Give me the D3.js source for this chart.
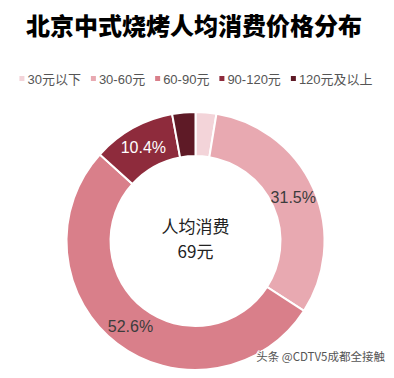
<!DOCTYPE html>
<html><head><meta charset="utf-8">
<script src="https://cdn.jsdelivr.net/npm/d3@7"></script>
<style>body{margin:0;background:#fff;}svg{display:block;}</style>
</head><body>
<svg id="c" width="394" height="378"></svg>
<script>
const categories = ["30元以下", "30-60元", "60-90元", "90-120元", "120元及以上"];
const values = [2.6, 31.5, 52.6, 10.4, 2.9];
const labels = ["", "31.5%", "52.6%", "10.4%", ""];
const colors = ["#f3d4d9", "#e8a9b1", "#d97f8a", "#8e2b3c", "#5e1a26"];
const labelColors = ["#333", "#3c3c3c", "#3c3c3c", "#ffffff", "#fff"];
const title = "北京中式烧烤人均消费价格分布";
const centerLines = ["人均消费", "69元"];
const credit = "头条 @CDTV5成都全接触";

const svg = d3.select("#c");
const font = "'Noto Sans CJK SC', 'Liberation Sans', sans-serif";

svg.append("text").attr("x", 194).attr("y", 35).attr("text-anchor", "middle")
  .attr("font-family", font).attr("font-weight", 900).attr("font-size", 24)
  .attr("fill", "#000").text(title);

// legend
const lg = svg.append("g").attr("font-family", "'Liberation Sans', 'Noto Sans CJK SC', sans-serif").attr("font-size", 13);
let x = 0;
categories.forEach((c, i) => {
  const g = lg.append("g");
  g.append("rect").attr("x", 0).attr("y", -3).attr("width", 5).attr("height", 5).attr("fill", colors[i]);
  const t = g.append("text").attr("x", 8).attr("y", 0).attr("dy", "0.35em").attr("fill", "#555").text(c);
  const w = 8 + t.node().getComputedTextLength();
  g.attr("transform", `translate(${x},79)`);
  x += w + 10;
});
const totalW = x - 10;
lg.attr("transform", `translate(${196 - totalW / 2},0)`);

// donut
const cx = 195.5, cy = 241, rO = 129, rI = 85;
const pie = d3.pie().sort(null).value(d => d)(values);
const arc = d3.arc().innerRadius(rI).outerRadius(rO);
const g = svg.append("g").attr("transform", `translate(${cx},${cy})`);
g.selectAll("path").data(pie).join("path")
  .attr("d", arc).attr("fill", (d, i) => colors[i])
  .attr("stroke", "#fff").attr("stroke-width", 2);
g.selectAll("text.lbl").data(pie).join("text").attr("class", "lbl")
  .attr("transform", d => `translate(${arc.centroid(d)})`)
  .attr("text-anchor", "middle").attr("dy", "0.35em")
  .attr("font-family", "'Liberation Sans', sans-serif").attr("font-size", 16)
  .attr("fill", (d, i) => labelColors[i]).text((d, i) => labels[i]);

svg.append("text").attr("x", cx).attr("y", 232.5).attr("text-anchor", "middle")
  .attr("font-family", font).attr("font-size", 17).attr("fill", "#222").text(centerLines[0]);
svg.append("text").attr("x", cx).attr("y", 257.5).attr("text-anchor", "middle")
  .attr("font-family", font).attr("font-size", 17).attr("fill", "#222").text(centerLines[1]);

svg.append("text").attr("x", 385).attr("y", 361).attr("text-anchor", "end")
  .attr("font-family", font).attr("font-size", 11.5).attr("fill", "#555")
  .attr("stroke", "#fff").attr("stroke-width", 2).attr("paint-order", "stroke").text(credit);
</script>
</body></html>
